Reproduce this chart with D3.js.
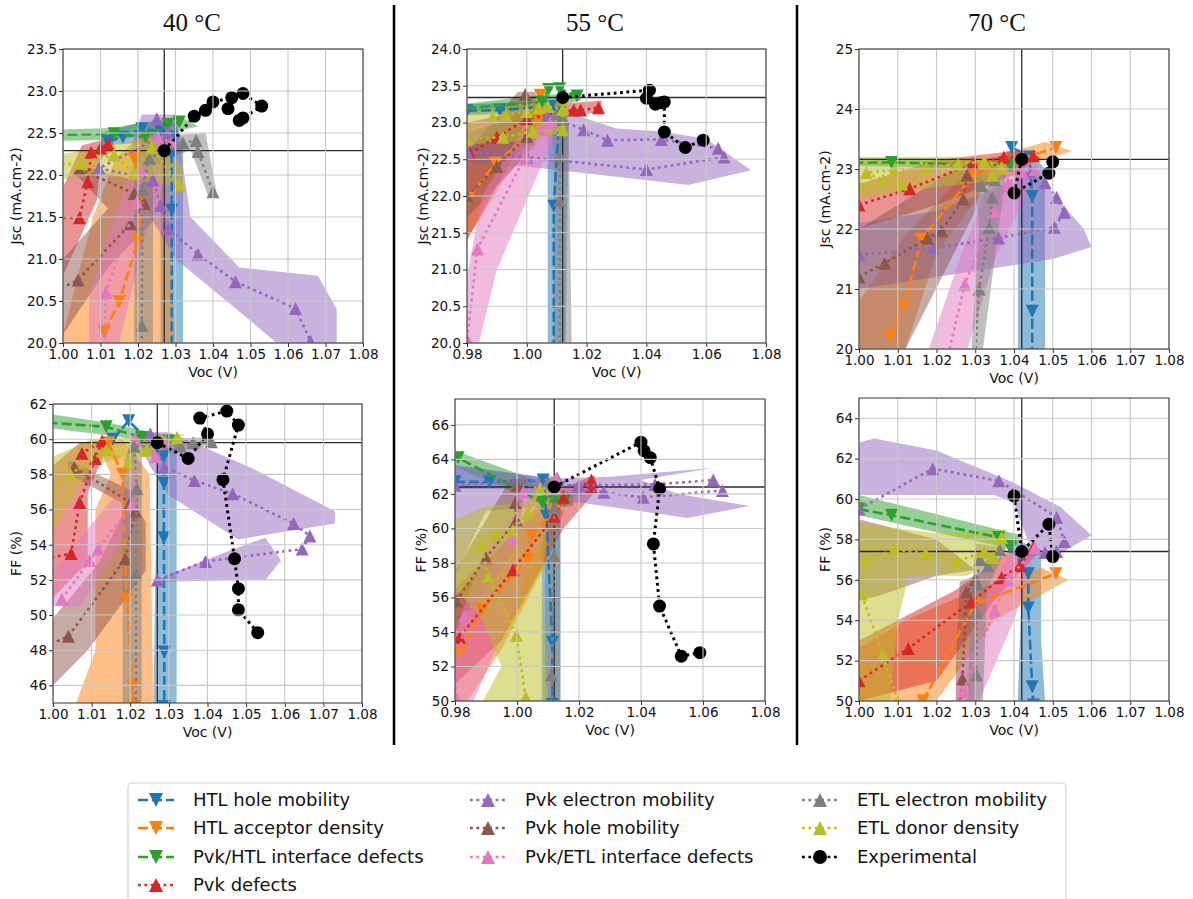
<!DOCTYPE html>
<html><head><meta charset="utf-8">
<script src="https://cdn.jsdelivr.net/npm/d3@7"></script>
<style>body{margin:0;background:#fff}svg{display:block}</style>
</head><body>
<svg id="c" width="1193" height="899"></svg>
<script>
// ---------------- series definitions ----------------
const seriesKeys   = ["hHole","hAcc","iHTL","pDef","pElec","pHole","iETL","eElec","eDon","exp"];
const seriesNames  = ["HTL hole mobility","HTL acceptor density","Pvk/HTL interface defects","Pvk defects",
                      "Pvk electron mobility","Pvk hole mobility","Pvk/ETL interface defects",
                      "ETL electron mobility","ETL donor density","Experimental"];
const seriesColors = ["#1f77b4","#ff7f0e","#2ca02c","#d62728","#9467bd","#8c564b","#e377c2","#7f7f7f","#bcbd22","#000000"];
const seriesMarkers= ["down","down","down","up","up","up","up","up","up","circle"];
const seriesDashes = ["dashed","dashed","dashed","dotted","dotted","dotted","dotted","dotted","dotted","dotted"];

const temperatures = ["40 °C","55 °C","70 °C"];

// ---------------- 40 °C  Jsc ----------------
const J40_hHole = [[1.012,22.40],[1.016,22.45],[1.021,22.55],[1.026,22.52],[1.029,22.45],[1.029,22.25],[1.029,21.58],[1.029,19.9]];
const J40_hHole_band = [[1.010,22.35],[1.026,22.40],[1.026,20.0],[1.032,20.0],[1.032,22.40],[1.030,22.62],[1.021,22.63],[1.010,22.50]];
const J40_hAcc = [[1.011,20.13],[1.015,20.49],[1.020,21.22],[1.021,21.70],[1.019,22.19],[1.022,22.44]];
const J40_hAcc_band = [[1.000,20.0],[1.000,20.1],[1.008,21.5],[1.014,22.2],[1.022,22.52],[1.027,22.3],[1.030,20.0]];
const J40_iHTL = [[0.990,22.47],[1.0136,22.49],[1.022,22.45],[1.028,22.60],[1.031,22.63]];
const J40_iHTL_band = [[0.990,22.40],[1.013,22.42],[1.028,22.50],[1.036,22.58],[1.031,22.70],[1.013,22.56],[0.990,22.53]];
const J40_pDef = [[0.995,21.50],[1.0044,21.49],[1.0066,21.92],[1.0075,22.27],[1.010,22.32],[1.012,22.37]];
const J40_pDef_band = [[1.000,20.8],[1.009,21.7],[1.010,22.2],[1.014,22.30],[1.013,22.45],[1.005,22.35],[1.000,21.85]];
const J40_pElec = [[1.025,22.67],[1.028,22.50],[1.0096,22.08],[1.024,21.94],[1.026,21.64],[1.028,21.36],[1.036,21.06],[1.046,20.73],[1.062,20.41],[1.066,20.02]];
const J40_pElec_band = [[1.021,22.72],[1.030,22.72],[1.034,21.5],[1.047,20.9],[1.068,20.8],[1.073,20.4],[1.073,20.0],[1.057,20.0],[1.045,20.45],[1.030,21.0],[1.022,21.6],[1.018,22.3]];
const J40_pHole = [[0.998,20.62],[1.004,20.75],[1.018,21.42],[1.0217,21.66],[1.019,21.78],[1.0044,22.07]];
const J40_pHole_band = [[1.000,20.1],[1.012,20.9],[1.024,21.45],[1.024,21.9],[1.018,21.95],[1.004,22.12],[1.004,21.98],[1.012,21.6],[1.000,21.0]];
const J40_iETL = [[1.011,19.9],[1.0114,20.60],[1.0197,21.68],[1.021,22.05],[1.0254,22.45],[1.029,22.38]];
const J40_iETL_band = [[1.007,20.0],[1.015,20.0],[1.022,21.3],[1.030,22.3],[1.028,22.55],[1.020,22.3],[1.013,21.4],[1.007,20.6]];
const J40_eElec = [[1.021,19.9],[1.021,20.21],[1.0212,21.82],[1.023,22.20],[1.032,22.38],[1.0355,22.41],[1.036,22.28],[1.040,21.80]];
const J40_eElec_band = [[1.019,20.0],[1.024,20.0],[1.024,22.1],[1.034,22.3],[1.039,21.72],[1.041,21.78],[1.038,22.5],[1.028,22.47],[1.019,22.3]];
const J40_eDon = [[0.998,22.12],[1.0048,22.14],[1.0136,22.24],[1.019,22.02],[1.0237,22.33],[1.031,21.88]];
const J40_eDon_band = [[1.000,21.95],[1.000,22.25],[1.012,22.35],[1.024,22.45],[1.032,22.1],[1.032,21.85],[1.020,21.95],[1.008,22.0]];
const J40_exp = [[1.027,22.29],[1.035,22.70],[1.038,22.77],[1.040,22.87],[1.045,22.92],[1.048,22.97],[1.053,22.82],[1.048,22.68],[1.047,22.65],[1.044,22.79]];

// ---------------- 55 °C  Jsc ----------------
const J55_hHole = [[0.980,23.16],[0.991,23.17],[1.008,23.22],[1.011,23.13],[1.009,21.86],[1.009,19.9]];
const J55_hHole_band = [[0.980,23.10],[1.007,23.13],[1.007,20.0],[1.013,20.0],[1.014,23.0],[1.012,23.30],[0.980,23.25]];
const J55_hAcc = [[0.9805,21.97],[0.9895,22.45],[1.000,22.80],[1.004,23.03],[1.0045,23.37]];
const J55_hAcc_band = [[0.980,21.4],[0.992,22.2],[1.006,22.9],[1.007,23.35],[0.995,23.1],[0.980,22.6]];
const J55_iHTL = [[0.975,23.18],[1.005,23.28],[1.0073,23.45],[1.011,23.46],[1.0168,23.36]];
const J55_iHTL_band = [[0.980,23.12],[1.010,23.22],[1.018,23.30],[1.018,23.42],[1.000,23.35],[0.980,23.26]];
const J55_pDef = [[0.981,22.58],[0.990,22.80],[1.000,23.05],[1.0157,23.17],[1.018,23.17],[1.024,23.20]];
const J55_pDef_band = [[0.980,21.4],[0.995,22.5],[1.010,23.05],[1.025,23.15],[1.025,23.30],[1.010,23.25],[0.980,23.0]];
const J55_pElec = [[0.980,22.60],[1.000,22.53],[1.040,22.36],[1.066,22.53],[1.064,22.65],[1.045,22.77],[1.027,22.76],[1.019,22.90],[1.007,23.10]];
const J55_pElec_band = [[0.980,22.45],[1.000,22.40],[1.054,22.15],[1.075,22.35],[1.060,22.78],[1.044,22.88],[1.030,22.92],[1.020,23.05],[1.005,23.20],[0.980,22.85]];
const J55_pHole = [[0.980,22.00],[0.990,22.40],[1.000,22.81],[0.9995,23.38]];
const J55_pHole_band = [[0.980,21.7],[1.003,22.7],[1.003,23.42],[0.997,23.42],[0.980,22.6]];
const J55_iETL = [[0.980,20.05],[0.9835,21.28],[0.9995,22.54],[1.005,22.90],[1.008,23.00]];
const J55_iETL_band = [[0.980,19.9],[0.984,20.0],[0.990,21.0],[1.010,22.9],[1.010,23.10],[1.000,23.0],[0.985,22.0],[0.980,20.9]];
const J55_eElec = [[1.011,19.9],[1.011,21.94],[1.011,22.55],[1.012,23.05],[1.010,23.12]];
const J55_eElec_band = [[1.009,20.0],[1.015,20.0],[1.014,23.0],[1.008,23.2],[1.009,22.5]];
const J55_eDon = [[0.980,22.78],[0.992,22.80],[1.002,22.88],[1.012,22.90],[1.012,23.18],[1.007,23.22],[1.004,23.20],[1.000,23.15],[0.993,23.10],[0.9885,23.07]];
const J55_eDon_band = [[0.980,22.70],[1.000,22.75],[1.013,22.88],[1.014,23.25],[1.000,23.27],[0.980,23.15]];
const J55_exp = [[1.012,23.34],[1.041,23.44],[1.040,23.33],[1.043,23.25],[1.045,23.27],[1.046,23.28],[1.046,22.87],[1.053,22.66],[1.059,22.76]];

// ---------------- 70 °C  Jsc ----------------
const J70_hHole = [[1.0394,23.36],[1.044,23.20],[1.0447,22.54],[1.0447,20.63],[1.0447,19.9]];
const J70_hHole_band = [[1.041,20.0],[1.048,20.0],[1.048,23.0],[1.044,23.30],[1.038,23.30],[1.041,22.6]];
const J70_hAcc = [[1.0079,20.21],[1.0115,20.71],[1.0161,21.83],[1.0294,22.90],[1.0508,23.36]];
const J70_hAcc_band = [[1.000,20.0],[1.012,20.0],[1.020,21.6],[1.035,22.9],[1.055,23.30],[1.048,23.45],[1.030,23.1],[1.012,21.9],[1.000,20.8]];
const J70_iHTL = [[0.995,23.10],[1.0084,23.11],[1.039,23.06]];
const J70_iHTL_band = [[1.000,23.05],[1.040,23.00],[1.042,23.15],[1.000,23.18]];
const J70_pDef = [[1.000,22.40],[1.0131,22.67],[1.0294,23.09],[1.0374,23.20],[1.045,23.22]];
const J70_pDef_band = [[1.000,22.0],[1.020,22.4],[1.040,22.9],[1.047,23.2],[1.040,23.30],[1.020,23.15],[1.000,22.75]];
const J70_pElec = [[1.000,21.57],[1.019,21.68],[1.036,21.85],[1.0504,22.03],[1.053,22.28],[1.051,22.53],[1.048,22.77],[1.044,22.95]];
const J70_pElec_band = [[1.000,21.0],[1.030,21.3],[1.050,21.5],[1.060,21.7],[1.058,22.0],[1.050,22.6],[1.045,23.0],[1.040,22.8],[1.020,22.3],[1.000,22.1]];
const J70_pHole = [[1.000,21.20],[1.0066,21.43],[1.0177,21.85],[1.0213,21.97],[1.0269,22.50],[1.0279,22.90]];
const J70_pHole_band = [[1.000,20.0],[1.012,20.0],[1.030,22.3],[1.032,23.0],[1.025,23.0],[1.000,22.0]];
const J70_iETL = [[1.023,19.9],[1.0273,21.08],[1.035,22.30],[1.0385,22.76],[1.042,22.95],[1.0455,22.99]];
const J70_iETL_band = [[1.018,20.0],[1.028,20.0],[1.035,21.5],[1.045,22.8],[1.045,23.2],[1.035,23.0],[1.026,21.5]];
const J70_eElec = [[1.030,19.9],[1.031,21.0],[1.0336,22.03],[1.0344,22.53],[1.0316,22.72],[1.035,22.82]];
const J70_eElec_band = [[1.029,20.0],[1.032,20.0],[1.036,22.0],[1.038,22.9],[1.030,22.9],[1.031,22.0]];
const J70_eDon = [[1.000,22.72],[1.011,22.75],[1.0062,22.82],[1.0019,22.94],[1.0092,22.98],[1.0174,23.03],[1.0256,23.08],[1.0323,23.13],[1.0368,23.03],[1.0345,22.90]];
const J70_eDon_band = [[1.000,22.5],[1.020,22.7],[1.035,22.8],[1.040,23.05],[1.030,23.2],[1.000,23.2]];
const J70_exp = [[1.042,23.16],[1.040,22.60],[1.049,22.93],[1.050,23.12]];

// ---------------- 40 °C  FF ----------------
const F40_hHole = [[1.0155,60.0],[1.0196,61.05],[1.0287,59.0],[1.0287,57.5],[1.0287,54.4],[1.0288,47.9],[1.0288,44.8]];
const F40_hHole_band = [[1.026,45],[1.032,45],[1.032,59.5],[1.027,59.5]];
const F40_hAcc = [[1.0144,59.8],[1.018,58.0],[1.0191,50.9],[1.0206,46.0],[1.021,44.8]];
const F40_hAcc_band = [[1.006,45],[1.011,48],[1.011,56],[1.015,58],[1.012,59.5],[1.018,60],[1.025,58],[1.026,45]];
const F40_iHTL = [[0.995,61.0],[1.0138,60.7],[1.023,60.1],[1.030,59.9]];
const F40_iHTL_band = [[1.000,60.6],[1.015,60.2],[1.032,59.7],[1.032,60.1],[1.015,60.9],[1.000,61.4]];
const F40_pDef = [[0.998,53.2],[1.0047,53.5],[1.0069,56.4],[1.011,58.9],[1.0127,59.9],[1.0075,59.2]];
const F40_pDef_band = [[1.000,51.0],[1.009,53.0],[1.009,57.0],[1.015,60.0],[1.007,59.8],[1.000,58.5]];
const F40_pElec = [[1.0252,60.3],[1.0288,58.4],[1.0366,57.65],[1.0465,56.9],[1.0623,55.2],[1.0665,54.5],[1.0645,53.75],[1.0395,53.05],[1.027,52.0]];
const F40_pElec_band = [[[1.021,60.4],[1.030,60.4],[1.052,58.3],[1.073,55.9],[1.073,55.2],[1.048,54.3],[1.030,56.8],[1.025,58.5]],
                        [[1.027,51.9],[1.055,52.0],[1.059,53.1],[1.055,54.4],[1.045,53.6],[1.030,52.3]]];
const F40_pHole = [[0.998,48.2],[1.004,48.8],[1.0187,53.2],[1.0213,55.9],[1.020,56.4],[1.0055,58.4]];
const F40_pHole_band = [[[1.000,46.0],[1.009,48.0],[1.024,52.5],[1.024,55.3],[1.020,56.6],[1.012,53.0],[1.000,49.8]],
                        [[1.004,58.8],[1.021,57.0],[1.021,56.0],[1.004,58.0]]];
const F40_iETL = [[1.0023,50.9],[1.0095,53.1],[1.0117,53.75],[1.0205,56.3],[1.0213,60.0],[1.0265,59.0],[1.029,59.9]];
const F40_iETL_band = [[1.000,50.5],[1.007,50.5],[1.022,55.7],[1.022,57.5],[1.015,56.5],[1.000,52.5]];
const F40_eElec = [[1.0215,44.8],[1.0215,52.3],[1.0217,57.2],[1.021,59.6],[1.033,59.6],[1.0363,59.8],[1.041,59.85]];
const F40_eElec_band = [[1.018,45],[1.023,45],[1.023,59],[1.040,59.6],[1.040,60.1],[1.020,60.0],[1.018,58]];
const F40_eDon = [[0.998,56.8],[1.0045,58.0],[1.0138,59.4],[1.0196,58.7],[1.0241,59.35],[1.0321,60.1]];
const F40_eDon_band = [[1.000,54.7],[1.010,58.5],[1.030,59.6],[1.034,60.3],[1.010,60.0],[1.000,59.0]];
const F40_exp = [[1.027,59.8],[1.035,58.9],[1.040,60.3],[1.038,61.2],[1.045,61.6],[1.048,60.8],[1.044,57.7],[1.047,53.2],[1.048,51.5],[1.048,50.3],[1.053,49.0]];

// ---------------- 55 °C  FF ----------------
const F55_hHole = [[0.980,62.7],[0.9912,62.7],[1.0084,62.8],[1.0095,60.7],[1.0114,53.4],[1.0114,49.8]];
const F55_hHole_band = [[0.980,62.3],[1.008,62.3],[1.008,50],[1.014,50],[1.014,62.5],[1.008,63.0],[0.980,63.6]];
const F55_hAcc = [[0.9815,52.8],[0.9887,55.3],[1.0036,58.2],[1.0047,59.6],[1.012,61.0]];
const F55_hAcc_band = [[0.980,50],[0.984,50],[0.995,53.0],[1.008,57.5],[1.015,61.0],[1.010,61.5],[0.980,56.5]];
const F55_iHTL = [[0.978,64.2],[0.981,64.1],[1.0082,61.5],[1.012,61.6],[1.0154,61.6]];
const F55_iHTL_band = [[0.980,63.6],[1.010,61.2],[1.018,61.3],[1.018,62.0],[1.000,63.2],[0.980,64.5]];
const F55_pDef = [[0.9815,53.7],[0.9987,57.6],[1.012,60.7],[1.015,61.8],[1.024,62.8],[1.024,62.4]];
const F55_pDef_band = [[0.980,51.0],[0.995,53.5],[1.015,60.0],[1.026,62.3],[1.025,63.1],[1.010,62.0],[0.980,56.0]];
const F55_pElec = [[0.980,62.5],[1.013,62.9],[1.0192,62.3],[1.028,62.1],[1.0407,61.8],[1.0663,62.2],[1.0633,62.8],[1.0445,62.55],[1.020,62.5],[1.000,62.45]];
const F55_pElec_band = [[0.980,57.3],[0.980,63.7],[1.010,62.9],[1.030,63.0],[1.063,63.5],[1.040,62.8],[1.052,62.0],[1.075,61.3],[1.055,60.6],[1.040,61.0],[1.020,61.5],[0.990,61.0]];
const F55_pHole = [[0.9804,55.8],[0.990,58.3],[0.9998,60.5],[0.9995,61.5],[1.000,62.5]];
const F55_pHole_band = [[0.980,54.0],[1.000,59.0],[1.003,62.8],[0.998,62.9],[0.980,57.5]];
const F55_iETL = [[0.980,50.3],[0.9831,54.9],[0.9987,59.4],[1.002,62.1],[1.0127,62.9],[1.012,62.3]];
const F55_iETL_band = [[0.980,50],[0.986,50],[1.010,60.0],[1.015,62.5],[1.010,63.2],[0.990,59.0],[0.980,54.0]];
const F55_eElec = [[1.0111,49.8],[1.0111,51.5],[1.012,58.4],[1.012,61.2],[1.010,62.7]];
const F55_eElec_band = [[1.009,50],[1.014,50],[1.014,62.0],[1.010,62.3],[1.009,58]];
const F55_eDon = [[1.0028,50.2],[0.9998,53.8],[0.9907,57.2],[0.9885,59.1],[0.9934,59.7],[0.9987,59.9],[1.0036,60.9],[1.0073,62.3],[1.012,62.4]];
const F55_eDon_band = [[0.980,60.5],[0.990,61.3],[1.003,61.5],[1.012,62.5],[1.008,57.0],[1.010,50],[0.989,50],[0.995,52],[0.988,55],[0.980,56.5]];
const F55_exp = [[1.012,62.4],[1.040,65.0],[1.041,64.5],[1.043,64.1],[1.046,62.3],[1.044,59.1],[1.046,55.5],[1.053,52.6],[1.059,52.8]];

// ---------------- 70 °C  FF ----------------
const F70_hHole = [[1.039,57.6],[1.0437,56.3],[1.0437,54.6],[1.0447,50.7],[1.045,49.8]];
const F70_hHole_band = [[1.041,50],[1.048,50],[1.047,53],[1.047,57.5],[1.040,58.0],[1.042,56.0]];
const F70_hAcc = [[1.014,49.5],[1.0165,50.0],[1.0299,54.8],[1.0508,56.3]];
const F70_hAcc_band = [[1.000,52.6],[1.012,54.0],[1.030,55.5],[1.047,56.6],[1.054,56.0],[1.035,54.0],[1.020,50],[1.000,50]];
const F70_iHTL = [[1.000,59.5],[1.0084,59.2],[1.036,58.1],[1.039,57.7]];
const F70_iHTL_band = [[1.000,59.2],[1.040,57.5],[1.042,58.2],[1.000,60.2]];
const F70_pDef = [[1.000,51.0],[1.0127,52.6],[1.029,54.9],[1.0368,56.1],[1.0415,56.7],[1.045,57.6]];
const F70_pDef_band = [[1.000,50],[1.020,51.0],[1.035,55.0],[1.046,57.3],[1.040,57.6],[1.025,55.5],[1.000,53.0]];
const F70_pElec = [[1.000,59.5],[1.019,61.5],[1.0361,60.9],[1.051,59.1],[1.053,57.9],[1.051,57.4],[1.048,57.35],[1.042,57.5]];
const F70_pElec_band = [[1.000,62.8],[1.004,63.0],[1.020,62.4],[1.040,60.8],[1.052,59.6],[1.060,58.2],[1.052,57.3],[1.045,57.2],[1.040,59.8],[1.035,60.2],[1.020,60.2],[1.000,60.2]];
const F70_pHole = [[1.026,49.8],[1.0267,51.1],[1.0277,55.4],[1.030,56.0]];
const F70_pHole_band = [[[1.025,50],[1.030,50],[1.030,56.2],[1.026,55.9],[1.025,52]],
                        [[1.000,55.0],[1.000,59.0],[1.020,58.0],[1.030,56.5],[1.020,56.2],[1.005,55.2]]];
const F70_iETL = [[1.027,50.5],[1.035,54.5],[1.0385,56.0],[1.0454,57.6]];
const F70_iETL_band = [[1.025,50],[1.031,50],[1.040,54],[1.046,57.6],[1.040,57.5],[1.032,55],[1.025,51]];
const F70_eElec = [[1.0303,51.3],[1.0303,54.4],[1.0303,55.8],[1.0312,57.0],[1.0333,56.7],[1.0363,57.5]];
const F70_eElec_band = [[1.028,50],[1.032,50],[1.033,55.5],[1.038,57.6],[1.030,57.8],[1.029,55]];
const F70_eDon = [[1.010,50.0],[1.0062,52.3],[1.0006,55.3],[1.0019,57.0],[1.0092,57.5],[1.0172,57.3],[1.0253,56.9],[1.0323,57.4],[1.0346,57.1],[1.0368,58.1]];
const F70_eDon_band = [[1.000,50],[1.000,58.8],[1.020,58.3],[1.038,58.5],[1.038,57.3],[1.028,56.2],[1.012,56.2],[1.012,55.5],[1.010,54.0],[1.008,50]];
const F70_exp = [[1.040,60.15],[1.042,57.4],[1.049,58.75],[1.050,57.15]];

// ---------------- axis settings ----------------
const xTicksA = [1.00,1.01,1.02,1.03,1.04,1.05,1.06,1.07,1.08];
const xTicksB = [0.98,1.00,1.02,1.04,1.06,1.08];
const yTicksJ40 = [20.0,20.5,21.0,21.5,22.0,22.5,23.0,23.5];
const yTicksJ55 = [20.0,20.5,21.0,21.5,22.0,22.5,23.0,23.5,24.0];
const yTicksJ70 = [20,21,22,23,24,25];
const yTicksF40 = [46,48,50,52,54,56,58,60,62];
const yTicksF55 = [50,52,54,56,58,60,62,64,66];
const yTicksF70 = [50,52,54,56,58,60,62,64];
const crossJ40 = [1.027,22.29], crossJ55 = [1.012,23.34], crossJ70 = [1.042,23.16];
const crossF40 = [1.027,59.8],  crossF55 = [1.012,62.4],  crossF70 = [1.042,57.4];

function pack(prefix, arrs) {
  const d = {}, b = {};
  seriesKeys.forEach(k => { d[k] = arrs[prefix + "_" + k]; b[k] = arrs[prefix + "_" + k + "_band"]; });
  return {d, b};
}
const ALL = {J40_hHole,J40_hHole_band,J40_hAcc,J40_hAcc_band,J40_iHTL,J40_iHTL_band,J40_pDef,J40_pDef_band,J40_pElec,J40_pElec_band,J40_pHole,J40_pHole_band,J40_iETL,J40_iETL_band,J40_eElec,J40_eElec_band,J40_eDon,J40_eDon_band,J40_exp,
J55_hHole,J55_hHole_band,J55_hAcc,J55_hAcc_band,J55_iHTL,J55_iHTL_band,J55_pDef,J55_pDef_band,J55_pElec,J55_pElec_band,J55_pHole,J55_pHole_band,J55_iETL,J55_iETL_band,J55_eElec,J55_eElec_band,J55_eDon,J55_eDon_band,J55_exp,
J70_hHole,J70_hHole_band,J70_hAcc,J70_hAcc_band,J70_iHTL,J70_iHTL_band,J70_pDef,J70_pDef_band,J70_pElec,J70_pElec_band,J70_pHole,J70_pHole_band,J70_iETL,J70_iETL_band,J70_eElec,J70_eElec_band,J70_eDon,J70_eDon_band,J70_exp,
F40_hHole,F40_hHole_band,F40_hAcc,F40_hAcc_band,F40_iHTL,F40_iHTL_band,F40_pDef,F40_pDef_band,F40_pElec,F40_pElec_band,F40_pHole,F40_pHole_band,F40_iETL,F40_iETL_band,F40_eElec,F40_eElec_band,F40_eDon,F40_eDon_band,F40_exp,
F55_hHole,F55_hHole_band,F55_hAcc,F55_hAcc_band,F55_iHTL,F55_iHTL_band,F55_pDef,F55_pDef_band,F55_pElec,F55_pElec_band,F55_pHole,F55_pHole_band,F55_iETL,F55_iETL_band,F55_eElec,F55_eElec_band,F55_eDon,F55_eDon_band,F55_exp,
F70_hHole,F70_hHole_band,F70_hAcc,F70_hAcc_band,F70_iHTL,F70_iHTL_band,F70_pDef,F70_pDef_band,F70_pElec,F70_pElec_band,F70_pHole,F70_pHole_band,F70_iETL,F70_iETL_band,F70_eElec,F70_eElec_band,F70_eDon,F70_eDon_band,F70_exp};

// layout (pixel boxes) kept separate from data
const panels = [
  {id:"J40", xd:[1.00,1.08], yd:[20,23.5], xt:xTicksA, yt:yTicksJ40, yf:".1f", cross:crossJ40, ylab:"Jsc (mA.cm-2)", box:{l:63,r:363,t:49,b:343}, ylx:16},
  {id:"J55", xd:[0.98,1.08], yd:[20,24],   xt:xTicksB, yt:yTicksJ55, yf:".1f", cross:crossJ55, ylab:"Jsc (mA.cm-2)", box:{l:467,r:766,t:49,b:343}, ylx:423},
  {id:"J70", xd:[1.00,1.08], yd:[20,25],   xt:xTicksA, yt:yTicksJ70, yf:"d",   cross:crossJ70, ylab:"Jsc (mA.cm-2)", box:{l:859,r:1169,t:49,b:349}, ylx:825},
  {id:"F40", xd:[1.00,1.08], yd:[45,62],   xt:xTicksA, yt:yTicksF40, yf:"d",   cross:crossF40, ylab:"FF (%)", box:{l:53,r:362,t:404,b:703}, ylx:16},
  {id:"F55", xd:[0.98,1.08], yd:[50,67.5], xt:xTicksB, yt:yTicksF55, yf:"d",   cross:crossF55, ylab:"FF (%)", box:{l:455,r:765,t:399,b:701}, ylx:421},
  {id:"F70", xd:[1.00,1.08], yd:[50,65],   xt:xTicksA, yt:yTicksF70, yf:"d",   cross:crossF70, ylab:"FF (%)", box:{l:859,r:1169,t:398,b:701}, ylx:825}
];

const svg = d3.select("#c");
const FONT = "'DejaVu Sans', sans-serif";
const TRI = 13, CIRC_R = 6.5;

function markerPath(type, s) {
  const h = s / 2;
  if (type === "up") return `M0,${-h}L${h},${h}L${-h},${h}Z`;
  if (type === "down") return `M0,${h}L${h},${-h}L${-h},${-h}Z`;
  const r = s === TRI ? CIRC_R : s / 2;
  return d3.symbol(d3.symbolCircle, Math.PI * r * r)();
}
function dashArr(t) { return t === "dashed" ? "10,4" : "2.8,3.6"; }

const defs = svg.append("defs");

panels.forEach((p, pi) => {
  const {d, b} = pack(p.id, ALL);
  const B = p.box;
  const x = d3.scaleLinear().domain(p.xd).range([B.l, B.r]);
  const y = d3.scaleLinear().domain(p.yd).range([B.b, B.t]);
  defs.append("clipPath").attr("id", "clip" + pi).append("rect")
    .attr("x", B.l).attr("y", B.t).attr("width", B.r - B.l).attr("height", B.b - B.t);
  const g = svg.append("g");
  const plot = g.append("g").attr("clip-path", `url(#clip${pi})`);

  // bands
  seriesKeys.forEach((k, si) => {
    const band = b[k];
    if (!band) return;
    const polys = typeof band[0][0] === "number" ? [band] : band;
    polys.forEach(poly => {
      plot.append("path")
        .attr("d", "M" + poly.map(q => x(q[0]) + "," + y(q[1])).join("L") + "Z")
        .attr("fill", seriesColors[si]).attr("fill-opacity", 0.5).attr("stroke", "none");
    });
  });

  // grid (drawn above the bands, as matplotlib does)
  const grid = g.append("g");
  p.xt.forEach(t => grid.append("line").attr("x1", x(t)).attr("x2", x(t)).attr("y1", B.t).attr("y2", B.b)
    .attr("stroke", "#c8c8c8").attr("stroke-width", 1.1));
  p.yt.forEach(t => grid.append("line").attr("x1", B.l).attr("x2", B.r).attr("y1", y(t)).attr("y2", y(t))
    .attr("stroke", "#c8c8c8").attr("stroke-width", 1.1));

  // crosshair
  plot.append("line").attr("x1", x(p.cross[0])).attr("x2", x(p.cross[0])).attr("y1", B.t).attr("y2", B.b)
    .attr("stroke", "#2a2a2a").attr("stroke-width", 1.3);
  plot.append("line").attr("x1", B.l).attr("x2", B.r).attr("y1", y(p.cross[1])).attr("y2", y(p.cross[1]))
    .attr("stroke", "#2a2a2a").attr("stroke-width", 1.3);

  // lines and markers
  const line = d3.line().x(q => x(q[0])).y(q => y(q[1]));
  seriesKeys.forEach((k, si) => {
    const pts = d[k];
    if (!pts) return;
    plot.append("path").attr("d", line(pts)).attr("fill", "none")
      .attr("stroke", seriesColors[si]).attr("stroke-width", si === 9 ? 3 : 2.6)
      .attr("stroke-dasharray", dashArr(seriesDashes[si]));
    plot.selectAll(null).data(pts).enter().append("path")
      .attr("d", markerPath(seriesMarkers[si], TRI))
      .attr("transform", q => `translate(${x(q[0])},${y(q[1])})`)
      .attr("fill", seriesColors[si]);
  });

  // frame
  g.append("rect").attr("x", B.l).attr("y", B.t).attr("width", B.r - B.l).attr("height", B.b - B.t)
    .attr("fill", "none").attr("stroke", "#333").attr("stroke-width", 1);

  // axes
  const ax = g.append("g").attr("transform", `translate(0,${B.b})`)
    .call(d3.axisBottom(x).tickValues(p.xt).tickFormat(d3.format(".2f")).tickSize(4).tickSizeOuter(0).tickPadding(2));
  const ay = g.append("g").attr("transform", `translate(${B.l},0)`)
    .call(d3.axisLeft(y).tickValues(p.yt).tickFormat(d3.format(p.yf)).tickSize(4).tickSizeOuter(0).tickPadding(2));
  [ax, ay].forEach(a => {
    a.select(".domain").remove();
    a.selectAll("line").attr("stroke", "#333");
    a.selectAll("text").attr("font-family", FONT).attr("font-size", 13.5).attr("fill", "#111");
  });

  g.append("text").attr("x", (B.l + B.r) / 2).attr("y", B.b + 34).attr("text-anchor", "middle")
    .attr("font-family", FONT).attr("font-size", 14).attr("fill", "#111").text("Voc (V)");
  g.append("text").attr("transform", `translate(${p.ylx + 5},${(B.t + B.b) / 2}) rotate(-90)`)
    .attr("text-anchor", "middle").attr("font-family", FONT).attr("font-size", 14).attr("fill", "#111").text(p.ylab);
});

// titles
const titleX = [192, 595, 997];
temperatures.forEach((t, i) => {
  svg.append("text").attr("x", titleX[i]).attr("y", 31).attr("text-anchor", "middle")
    .attr("font-family", "'Liberation Serif', 'DejaVu Serif', serif").attr("font-size", 25).attr("fill", "#111").text(t);
});

// separators
[394, 797].forEach(sx => svg.append("line").attr("x1", sx).attr("x2", sx).attr("y1", 5).attr("y2", 745)
  .attr("stroke", "#000").attr("stroke-width", 2.5));

// legend
const lg = svg.append("g");
lg.append("rect").attr("x", 128).attr("y", 783).attr("width", 938).attr("height", 130).attr("rx", 4)
  .attr("fill", "#fff").attr("stroke", "#d0d0d0").attr("stroke-width", 1.2);
const colX = [138, 470, 802];
const rowY = [800, 828, 857, 885];
const legendSlots = [[0,0],[0,1],[0,2],[0,3],[1,0],[1,1],[1,2],[2,0],[2,1],[2,2]];
seriesKeys.forEach((k, si) => {
  const [c, r] = legendSlots[si];
  const x0 = colX[c], yy = rowY[r];
  lg.append("line").attr("x1", x0).attr("x2", x0 + 36).attr("y1", yy).attr("y2", yy)
    .attr("stroke", seriesColors[si]).attr("stroke-width", 2.6).attr("stroke-dasharray", dashArr(seriesDashes[si]));
  lg.append("path").attr("d", markerPath(seriesMarkers[si], 14)).attr("transform", `translate(${x0 + 18},${yy})`)
    .attr("fill", seriesColors[si]);
  lg.append("text").attr("x", x0 + 55).attr("y", yy).attr("dy", "0.35em")
    .attr("font-family", FONT).attr("font-size", 18).attr("fill", "#111").text(seriesNames[si]);
});
</script>
</body></html>
